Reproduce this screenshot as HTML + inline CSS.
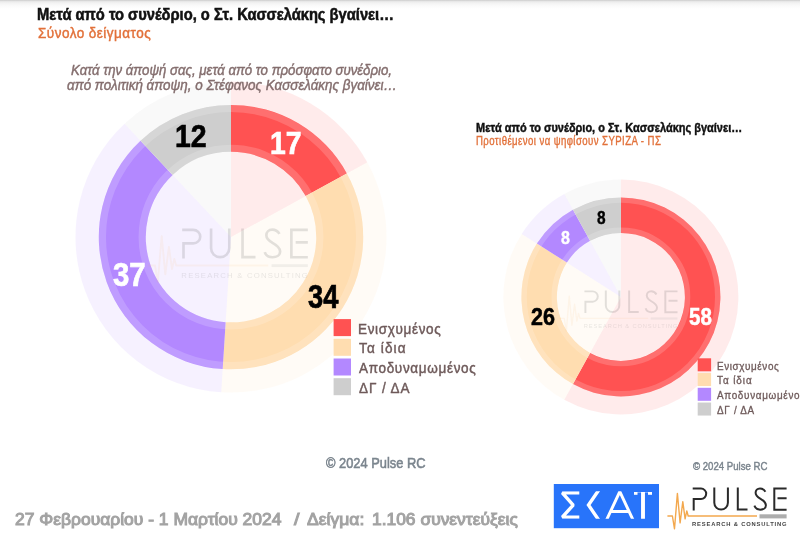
<!DOCTYPE html>
<html lang="el">
<head>
<meta charset="utf-8">
<title>Pulse RC – ΣΚΑΪ</title>
<style>
html,body{margin:0;padding:0;background:#fff;}
body{width:800px;height:541px;position:relative;overflow:hidden;font-family:"Liberation Sans", sans-serif;}
#topline{position:absolute;left:0;top:0;width:800px;height:9px;background:linear-gradient(#c9c9c9 0px,#e6e6e6 1.2px,#f3f3f3 3px,#fbfbfb 6px,#ffffff 9px);}
svg{position:absolute;left:0;top:0;will-change:transform;}
#txt{position:absolute;left:0;top:0;width:800px;height:541px;will-change:transform;}
.t{position:absolute;white-space:nowrap;transform-origin:0 0;display:block;margin:0;padding:0;}
</style>
</head>
<body>
<div id="topline"></div>
<svg width="800" height="541" viewBox="0 0 800 541">
<defs>
<g id="pulselogo">
  <g fill="none" stroke="#2a2a2a" stroke-width="2" stroke-linecap="butt" stroke-linejoin="miter">
    <path d="M692.7,488.6 H701 A5.2,5.2 0 0 1 701,499 H693.7 V510.6"/>
    <path d="M714.3,487.6 V502.8 A6.8,6.8 0 0 0 727.9,502.8 V487.6"/>
    <path d="M737.8,487.6 V509.6 H747.5"/>
    <path d="M765.4,491.7 C764.2,489.6 762.2,488.4 760,488.4 C757.3,488.4 755.6,490.4 755.6,492.8 C755.6,495.3 757.2,496.9 760.2,498.6 C763.7,500.6 765.9,502.3 765.9,505.2 C765.9,508 763.3,509.7 760.2,509.7 C757.5,509.7 755.3,508.3 754.4,505.7"/>
    <path d="M786.6,488.6 H774.3 V509.7 H786.6 M777.5,498.2 H786.6"/>
  </g>
  <path d="M667.4,516 H672.4 L674.5,528.8 L677.4,493.4 L680.1,522.9 L682.8,501.7 L685.1,518.8 L686.8,510.9 L688.2,516 H757" fill="none" stroke="#f3a84e" stroke-width="1.4" stroke-linejoin="round" stroke-opacity="1"/>
  <rect x="759.5" y="514.3" width="27.1" height="4.1" fill="#adadad"/>
  <text x="692.1" y="525.9" font-family="Liberation Sans, sans-serif" font-weight="bold" font-size="5.8" fill="#444" textLength="94.5" lengthAdjust="spacing">RESEARCH &amp; CONSULTING</text>
</g>

<g id="pulsewm">
  <g fill="none" stroke="#2a2a2a" stroke-width="2" stroke-linecap="butt" stroke-linejoin="miter">
    <path d="M692.7,488.6 H701 A5.2,5.2 0 0 1 701,499 H693.7 V510.6"/>
    <path d="M714.3,487.6 V502.8 A6.8,6.8 0 0 0 727.9,502.8 V487.6"/>
    <path d="M737.8,487.6 V509.6 H747.5"/>
    <path d="M765.4,491.7 C764.2,489.6 762.2,488.4 760,488.4 C757.3,488.4 755.6,490.4 755.6,492.8 C755.6,495.3 757.2,496.9 760.2,498.6 C763.7,500.6 765.9,502.3 765.9,505.2 C765.9,508 763.3,509.7 760.2,509.7 C757.5,509.7 755.3,508.3 754.4,505.7"/>
    <path d="M786.6,488.6 H774.3 V509.7 H786.6 M777.5,498.2 H786.6"/>
  </g>
  <path d="M667.4,516 H672.4 L674.5,528.8 L677.4,493.4 L680.1,522.9 L682.8,501.7 L685.1,518.8 L686.8,510.9 L688.2,516 H757" fill="none" stroke="#f3a84e" stroke-width="1.4" stroke-linejoin="round" stroke-opacity="0.65"/>
  <rect x="759.5" y="515" width="27.1" height="2.2" fill="#999"/>
  <text x="692.1" y="525.9" font-family="Liberation Sans, sans-serif" font-weight="normal" font-size="5.8" fill="#555" textLength="94.5" lengthAdjust="spacing">RESEARCH &amp; CONSULTING</text>
</g>
</defs>
<path d="M231.00,237.10 L231.00,81.60 A155.50,155.50 0 0 1 367.27,162.19 Z" fill="#ff5252" fill-opacity="0.115"/>
<path d="M231.00,237.10 L367.27,162.19 A155.50,155.50 0 0 1 221.24,392.29 Z" fill="#ffddb0" fill-opacity="0.115"/>
<path d="M231.00,237.10 L221.24,392.29 A155.50,155.50 0 0 1 124.55,123.75 Z" fill="#b388ff" fill-opacity="0.115"/>
<path d="M231.00,237.10 L124.55,123.75 A155.50,155.50 0 0 1 231.00,81.60 Z" fill="#cecece" fill-opacity="0.115"/>
<path d="M231.00,104.90 A132.20,132.20 0 0 1 346.85,173.41 L305.71,196.03 A85.25,85.25 0 0 0 231.00,151.85 Z" fill="#ff5252"/>
<path d="M346.85,173.41 A132.20,132.20 0 0 1 222.70,369.04 L225.65,322.18 A85.25,85.25 0 0 0 305.71,196.03 Z" fill="#ffddb0"/>
<path d="M222.70,369.04 A132.20,132.20 0 0 1 140.50,140.73 L172.64,174.96 A85.25,85.25 0 0 0 225.65,322.18 Z" fill="#b388ff"/>
<path d="M140.50,140.73 A132.20,132.20 0 0 1 231.00,104.90 L231.00,151.85 A85.25,85.25 0 0 0 172.64,174.96 Z" fill="#cecece"/>
<circle cx="231.0" cy="237.1" r="128.60" fill="none" stroke="#fff" stroke-opacity="0.17" stroke-width="7.20"/>
<circle cx="231.0" cy="237.1" r="88.85" fill="none" stroke="#fff" stroke-opacity="0.17" stroke-width="7.20"/>
<use href="#pulsewm" transform="translate(-744.87,-404.65) scale(1.3383,1.2987)" opacity="0.13"/>
<path d="M620.90,296.90 L620.90,179.40 A117.50,117.50 0 1 1 564.29,399.87 Z" fill="#ff5252" fill-opacity="0.115"/>
<path d="M620.90,296.90 L564.29,399.87 A117.50,117.50 0 0 1 521.69,233.94 Z" fill="#ffddb0" fill-opacity="0.115"/>
<path d="M620.90,296.90 L521.69,233.94 A117.50,117.50 0 0 1 564.29,193.93 Z" fill="#b388ff" fill-opacity="0.115"/>
<path d="M620.90,296.90 L564.29,193.93 A117.50,117.50 0 0 1 620.90,179.40 Z" fill="#cecece" fill-opacity="0.115"/>
<path d="M620.90,197.40 A99.50,99.50 0 1 1 572.97,384.09 L590.07,352.98 A64.00,64.00 0 1 0 620.90,232.90 Z" fill="#ff5252"/>
<path d="M572.97,384.09 A99.50,99.50 0 0 1 536.89,243.59 L566.86,262.61 A64.00,64.00 0 0 0 590.07,352.98 Z" fill="#ffddb0"/>
<path d="M536.89,243.59 A99.50,99.50 0 0 1 572.97,209.71 L590.07,240.82 A64.00,64.00 0 0 0 566.86,262.61 Z" fill="#b388ff"/>
<path d="M572.97,209.71 A99.50,99.50 0 0 1 620.90,197.40 L620.90,232.90 A64.00,64.00 0 0 0 590.07,240.82 Z" fill="#cecece"/>
<circle cx="620.9" cy="296.9" r="96.80" fill="none" stroke="#fff" stroke-opacity="0.17" stroke-width="5.40"/>
<circle cx="620.9" cy="296.9" r="66.70" fill="none" stroke="#fff" stroke-opacity="0.17" stroke-width="5.40"/>
<use href="#pulsewm" transform="translate(-102.47,-190.87) scale(0.9916,0.9870)" opacity="0.13"/>
<rect x="333.6" y="319.10" width="17.4" height="17" fill="#ff5252"/>
<rect x="333.6" y="338.80" width="17.4" height="17" fill="#ffddb0"/>
<rect x="333.6" y="358.50" width="17.4" height="17" fill="#b388ff"/>
<rect x="333.6" y="378.20" width="17.4" height="17" fill="#cecece"/>
<rect x="697.7" y="358.30" width="13.4" height="13" fill="#ff5252"/>
<rect x="697.7" y="373.05" width="13.4" height="13" fill="#ffddb0"/>
<rect x="697.7" y="387.80" width="13.4" height="13" fill="#b388ff"/>
<rect x="697.7" y="402.55" width="13.4" height="13" fill="#cecece"/>

<rect x="553.8" y="484" width="105.2" height="44.2" fill="#2874fa"/>
<clipPath id="skclip"><rect x="550" y="491.2" width="112" height="27.6"/></clipPath>
<g clip-path="url(#skclip)" fill="none" stroke="#fff">
  <path d="M579.3,492.9 H562.3 L573.2,505.05 L562.3,517.1 H579.3" stroke-width="3.4" stroke-linejoin="bevel"/>
  <path d="M600.7,487.2 L588.5,505.05 L600.7,522.9" stroke-width="3.4" stroke-linejoin="miter" stroke-miterlimit="10"/>
  <path d="M605.6,522 L619.8,491.6 L634,522" stroke-width="2.95" stroke-linejoin="miter" stroke-miterlimit="10"/>
  <path d="M610.3,511.5 H629.3" stroke-width="3.1"/>
  <path d="M643,492 V520" stroke-width="3.9"/>
</g>
<rect x="634" y="492" width="3.5" height="2.8" fill="#fff"/>
<rect x="648" y="492" width="4" height="2.8" fill="#fff"/>
<rect x="634" y="492" width="18" height="0.9" fill="#fff" opacity="0.4"/>

<use href="#pulselogo"/>
</svg>
<div id="txt">
<span class="t" style="letter-spacing:0.000px;left:36.58px;top:4.56px;font-size:16.00px;line-height:20.8px;font-weight:bold;font-style:normal;color:#111111;-webkit-text-stroke:0.55px #111111;transform:scaleX(0.9193)">Μετά από το συνέδριο, ο Στ. Κασσελάκης βγαίνει…</span>
<span class="t" style="letter-spacing:0.530px;left:37.50px;top:23.05px;font-size:15.00px;line-height:19.5px;font-weight:normal;font-style:normal;color:#e2713a;-webkit-text-stroke:0.45px #e2713a;transform:scaleX(0.9000)">Σύνολο δείγματος</span>
<span class="t" style="letter-spacing:0.000px;left:71.00px;top:59.55px;font-size:15.00px;line-height:19.5px;font-weight:normal;font-style:italic;color:#846e6e;-webkit-text-stroke:0.45px #846e6e;transform:scaleX(0.8823)">Κατά την άποψή σας, μετά από το πρόσφατο συνέδριο,</span>
<span class="t" style="letter-spacing:0.000px;left:67.00px;top:75.05px;font-size:15.00px;line-height:19.5px;font-weight:normal;font-style:italic;color:#846e6e;-webkit-text-stroke:0.45px #846e6e;transform:scaleX(0.8948)">από πολιτική άποψη, ο Στέφανος Κασσελάκης βγαίνει…</span>
<span class="t" style="letter-spacing:0.000px;left:476.00px;top:120.44px;font-size:12.80px;line-height:16.64px;font-weight:bold;font-style:normal;color:#111111;-webkit-text-stroke:0.45px #111111;transform:scaleX(0.8574)">Μετά από το συνέδριο, ο Στ. Κασσελάκης βγαίνει…</span>
<span class="t" style="letter-spacing:0.530px;left:476.00px;top:134.04px;font-size:12.00px;line-height:15.6px;font-weight:normal;font-style:normal;color:#e2713a;-webkit-text-stroke:0.36px #e2713a;transform:scaleX(0.8000)">Προτιθέμενοι να ψηφίσουν ΣΥΡΙΖΑ - ΠΣ</span>
<span class="t" style="letter-spacing:0.743px;left:357.80px;top:318.80px;font-size:15.00px;line-height:19.5px;font-weight:normal;font-style:normal;color:#6e5a5a;-webkit-text-stroke:0.45px #6e5a5a;transform:scaleX(0.9000)">Ενισχυμένος</span>
<span class="t" style="letter-spacing:1.272px;left:358.70px;top:338.45px;font-size:15.00px;line-height:19.5px;font-weight:normal;font-style:normal;color:#6e5a5a;-webkit-text-stroke:0.45px #6e5a5a;transform:scaleX(0.9000)">Τα ίδια</span>
<span class="t" style="letter-spacing:0.755px;left:358.70px;top:358.15px;font-size:15.00px;line-height:19.5px;font-weight:normal;font-style:normal;color:#6e5a5a;-webkit-text-stroke:0.45px #6e5a5a;transform:scaleX(0.9000)">Αποδυναμωμένος</span>
<span class="t" style="letter-spacing:1.033px;left:358.70px;top:377.75px;font-size:15.00px;line-height:19.5px;font-weight:normal;font-style:normal;color:#6e5a5a;-webkit-text-stroke:0.45px #6e5a5a;transform:scaleX(0.9000)">ΔΓ / ΔΑ</span>
<span class="t" style="letter-spacing:0.661px;left:716.75px;top:358.54px;font-size:11.00px;line-height:14.3px;font-weight:normal;font-style:normal;color:#6e5a5a;-webkit-text-stroke:0.33px #6e5a5a;transform:scaleX(0.9000)">Ενισχυμένος</span>
<span class="t" style="letter-spacing:1.038px;left:716.75px;top:373.24px;font-size:11.00px;line-height:14.3px;font-weight:normal;font-style:normal;color:#6e5a5a;-webkit-text-stroke:0.33px #6e5a5a;transform:scaleX(0.9000)">Τα ίδια</span>
<span class="t" style="letter-spacing:0.756px;left:716.75px;top:387.94px;font-size:11.00px;line-height:14.3px;font-weight:normal;font-style:normal;color:#6e5a5a;-webkit-text-stroke:0.33px #6e5a5a;transform:scaleX(0.9000)">Αποδυναμωμένος</span>
<span class="t" style="letter-spacing:0.763px;left:716.75px;top:402.74px;font-size:11.00px;line-height:14.3px;font-weight:normal;font-style:normal;color:#6e5a5a;-webkit-text-stroke:0.33px #6e5a5a;transform:scaleX(0.9000)">ΔΓ / ΔΑ</span>
<span class="t" style="letter-spacing:0.000px;left:326.40px;top:453.75px;font-size:14.50px;line-height:18.85px;font-weight:normal;font-style:normal;color:#7b858e;-webkit-text-stroke:0.55px #7b858e;transform:scaleX(0.8866)">© 2024 Pulse RC</span>
<span class="t" style="letter-spacing:0.000px;left:692.50px;top:459.04px;font-size:11.00px;line-height:14.3px;font-weight:normal;font-style:normal;color:#7b858e;-webkit-text-stroke:0.45px #7b858e;transform:scaleX(0.8744)">© 2024 Pulse RC</span>
<span class="t" style="letter-spacing:0.000px;left:15.20px;top:510.05px;font-size:15.60px;line-height:20.28px;font-weight:normal;font-style:normal;color:#a3a3a3;-webkit-text-stroke:0.95px #a3a3a3;transform:scaleX(1.1193)">27 Φεβρουαρίου - 1 Μαρτίου 2024</span>
<span class="t" style="letter-spacing:0.000px;left:293.70px;top:510.05px;font-size:15.60px;line-height:20.28px;font-weight:normal;font-style:normal;color:#a3a3a3;-webkit-text-stroke:0.95px #a3a3a3;transform:scaleX(1.2600)">/</span>
<span class="t" style="letter-spacing:0.000px;left:307.20px;top:510.05px;font-size:15.60px;line-height:20.28px;font-weight:normal;font-style:normal;color:#a3a3a3;-webkit-text-stroke:0.95px #a3a3a3;transform:scaleX(1.1243)">Δείγμα:</span>
<span class="t" style="letter-spacing:0.000px;left:371.88px;top:510.05px;font-size:15.60px;line-height:20.28px;font-weight:normal;font-style:normal;color:#a3a3a3;-webkit-text-stroke:0.95px #a3a3a3;transform:scaleX(1.1161)">1.106 συνεντεύξεις</span>
<span class="t" style="letter-spacing:0.000px;left:174.61px;top:116.07px;font-size:31.84px;line-height:41.4px;font-weight:bold;font-style:normal;color:#000;-webkit-text-stroke:0.70px #000;transform:scaleX(0.8929)">12</span>
<span class="t" style="letter-spacing:0.000px;left:270.23px;top:122.99px;font-size:32.12px;line-height:41.76px;font-weight:bold;font-style:normal;color:#fff;-webkit-text-stroke:0.71px #fff;transform:scaleX(0.8826)">17</span>
<span class="t" style="letter-spacing:0.000px;left:112.75px;top:253.75px;font-size:32.96px;line-height:42.85px;font-weight:bold;font-style:normal;color:#fff;-webkit-text-stroke:0.73px #fff;transform:scaleX(0.8903)">37</span>
<span class="t" style="letter-spacing:0.000px;left:308.00px;top:275.18px;font-size:33.24px;line-height:43.21px;font-weight:bold;font-style:normal;color:#000;-webkit-text-stroke:0.73px #000;transform:scaleX(0.8217)">34</span>
<span class="t" style="letter-spacing:0.000px;left:596.60px;top:205.89px;font-size:18.58px;line-height:24.15px;font-weight:bold;font-style:normal;color:#000;-webkit-text-stroke:0.41px #000;transform:scaleX(0.8300)">8</span>
<span class="t" style="letter-spacing:0.000px;left:560.90px;top:225.61px;font-size:18.85px;line-height:24.51px;font-weight:bold;font-style:normal;color:#fff;-webkit-text-stroke:0.41px #fff;transform:scaleX(0.8500)">8</span>
<span class="t" style="letter-spacing:0.000px;left:530.50px;top:301.36px;font-size:24.72px;line-height:32.14px;font-weight:bold;font-style:normal;color:#000;-webkit-text-stroke:0.54px #000;transform:scaleX(0.8711)">26</span>
<span class="t" style="letter-spacing:0.000px;left:688.90px;top:302.24px;font-size:23.74px;line-height:30.87px;font-weight:bold;font-style:normal;color:#fff;-webkit-text-stroke:0.52px #fff;transform:scaleX(0.8664)">58</span>
</div>
</body>
</html>
